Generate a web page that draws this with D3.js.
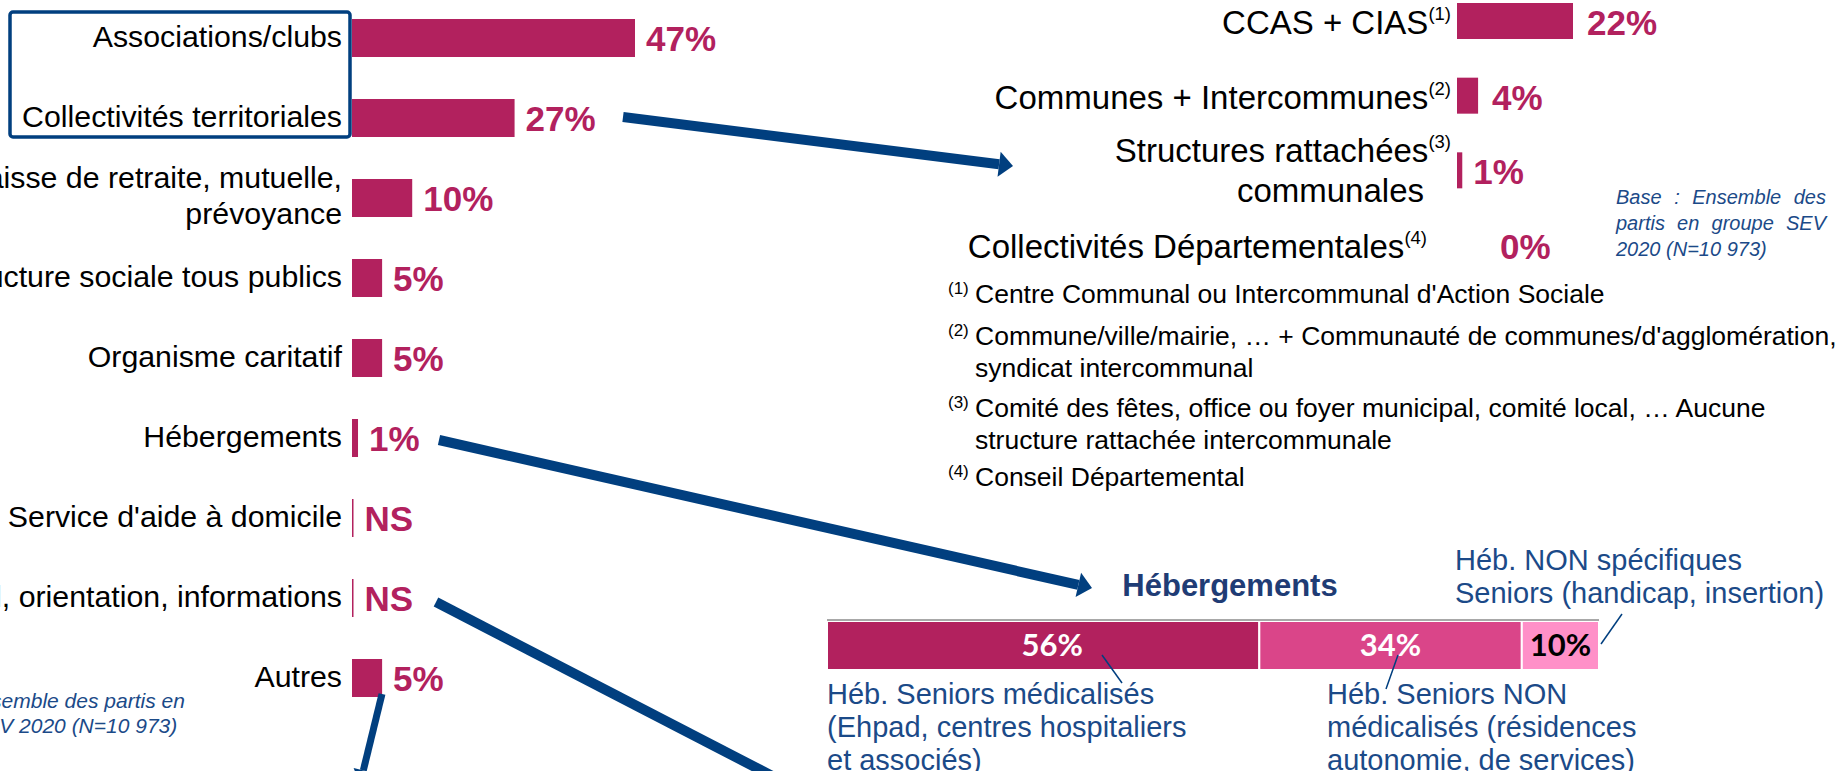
<!DOCTYPE html>
<html>
<head>
<meta charset="utf-8">
<script src="https://d3js.org/d3.v7.min.js"></script>
<style>
    body {
        margin: 0px;
        padding: 0px;
        background: #ffffff;
        overflow: hidden;
    }

    svg {
        display: block;
        font-family: "Liberation Sans", Arial, sans-serif;
    }
</style>
<title>Partis en groupe SEV 2020</title>
</head>

<body>
<div id="chart"></div>

<script>
    // left chart : type of structure (| = line break)
    var leftCats = ["Associations/clubs", "Collectivités territoriales",
        "Caisse de retraite, mutuelle,|prévoyance", "Structure sociale tous publics",
        "Organisme caritatif", "Hébergements", "Service d'aide à domicile",
        "Accueil, orientation, informations", "Autres"];
    var leftVals = [47, 27, 10, 5, 5, 1, 0.25, 0.25, 5];
    var leftLabels = ["47%", "27%", "10%", "5%", "5%", "1%", "NS", "NS", "5%"];

    // detail of "Collectivités territoriales"
    var colCats = ["CCAS + CIAS", "Communes + Intercommunes",
        "Structures rattachées|communales", "Collectivités Départementales"];
    var colSup = ["(1)", "(2)", "(3)", "(4)"];
    var colVals = [22, 4, 1, 0];
    var colLabels = ["22%", "4%", "1%", "0%"];

    // footnotes
    var noteNums = ["(1)", "(2)", "(3)", "(4)"];
    var noteLines = [
        ["Centre Communal ou Intercommunal d'Action Sociale"],
        ["Commune/ville/mairie, … + Communauté de communes/d'agglomération,", "syndicat intercommunal"],
        ["Comité des fêtes, office ou foyer municipal, comité local, … Aucune", "structure rattachée intercommunale"],
        ["Conseil Départemental"]
    ];

    // detail of "Hébergements"
    var hebCats = ["Seniors médicalisés", "Seniors NON médicalisés", "NON spécifiques Seniors"];
    var hebVals = [56, 34, 10];
    var hebLabels = ["56%", "34%", "10%"];
    var hebText = [
        ["Héb. Seniors médicalisés", "(Ehpad, centres hospitaliers", "et associés)"],
        ["Héb. Seniors NON", "médicalisés (résidences", "autonomie, de services)"],
        ["Héb. NON spécifiques", "Seniors (handicap, insertion)"]
    ];

    var baseText = ["Base : Ensemble des", "partis en groupe SEV", "2020 (N=10 973)"];
    var baseTextLeft = ["Base : Ensemble des partis en", "groupe SEV 2020 (N=10 973)"];

    var magenta = "#b2215e";
    var navy = "#013f7f";
    var blueText = "#1b4a88";

    var svg = d3.select("#chart").append("svg")
        .attr("width", 1835)
        .attr("height", 771);

    //justify a line of text to a given width by stretching the spaces
    function justify(sel, width) {
        sel.each(function () {
            var gaps = d3.select(this).text().split(" ").length - 1;
            var w0 = this.getComputedTextLength();
            if (gaps > 0) d3.select(this).style("word-spacing", ((width - w0) / gaps) + "px");
        });
    }

    //straight thick arrow, head drawn as a triangle
    function arrow(a) {
        var dx = a.to[0] - a.from[0], dy = a.to[1] - a.from[1];
        var len = Math.sqrt(dx * dx + dy * dy);
        var ux = dx / len, uy = dy / len;
        var bx = a.to[0] - ux * a.head, by = a.to[1] - uy * a.head;
        svg.append("line")
            .attr("x1", a.from[0]).attr("y1", a.from[1])
            .attr("x2", bx).attr("y2", by)
            .attr("stroke", navy)
            .attr("stroke-width", a.w);
        if (a.head > 0) {
            var hw = a.headW / 2;
            svg.append("polygon")
                .attr("points", [[a.to[0], a.to[1]],
                    [bx - uy * hw, by + ux * hw],
                    [bx + uy * hw, by - ux * hw]].join(" "))
                .attr("fill", navy);
        }
    }

    // ---------- left chart ----------
    var yLeft = d3.scalePoint().domain(leftCats).range([38, 678]);
    var xLeft = d3.scaleLinear().domain([0, 47]).range([352, 635]);
    var barH = 38;

    var gLeft = svg.append("g");

    gLeft.selectAll("rect")
        .data(leftCats)
        .join("rect")
        .attr("x", xLeft(0))
        .attr("y", function (d) { return yLeft(d) - barH / 2; })
        .attr("width", function (d, i) { return xLeft(leftVals[i]) - xLeft(0); })
        .attr("height", barH)
        .attr("fill", magenta);

    gLeft.selectAll("text.cat")
        .data(leftCats)
        .join("text")
        .attr("class", "cat")
        .attr("text-anchor", "end")
        .attr("font-size", 30.3)
        .attr("fill", "#000")
        .each(function (d) {
            var lines = d.split("|");
            var cy = yLeft(d);
            var t = d3.select(this);
            lines.forEach(function (l, k) {
                t.append("tspan")
                    .attr("x", 342)
                    .attr("y", lines.length == 1 ? cy + 9 : cy - 10 + k * 36)
                    .text(l);
            });
        });

    gLeft.selectAll("text.val")
        .data(leftCats)
        .join("text")
        .attr("class", "val")
        .attr("x", function (d, i) { return xLeft(leftVals[i]) + 11; })
        .attr("y", function (d) { return yLeft(d) + 13; })
        .attr("font-size", 35)
        .attr("font-weight", "bold")
        .attr("fill", magenta)
        .text(function (d, i) { return leftLabels[i]; });

    //box around associations + collectivités
    svg.append("rect")
        .attr("x", 10).attr("y", 12)
        .attr("width", 340).attr("height", 125)
        .attr("rx", 3)
        .attr("fill", "none")
        .attr("stroke", navy)
        .attr("stroke-width", 3.5);

    svg.append("g").selectAll("text")
        .data(baseTextLeft)
        .join("text")
        .attr("x", -100)
        .attr("y", function (d, i) { return 708 + i * 25; })
        .attr("font-size", 21)
        .attr("font-style", "italic")
        .attr("fill", blueText)
        .text(function (d) { return d; });

    // ---------- collectivités detail (top right) ----------
    var yCol = d3.scalePoint().domain(colCats).range([21, 245]);
    var xCol = d3.scaleLinear().domain([0, 22]).range([1457, 1573]);
    var colH = 36;
    var gCol = svg.append("g");

    gCol.selectAll("rect")
        .data(colCats)
        .join("rect")
        .attr("x", xCol(0))
        .attr("y", function (d) { return yCol(d) - colH / 2; })
        .attr("width", function (d, i) { return xCol(colVals[i]) - xCol(0); })
        .attr("height", colH)
        .attr("fill", magenta);

    //the empty row keeps its label further left, its value further right
    function rowShift(i) { return colVals[i] == 0 ? 24 : 0; }

    gCol.selectAll("g.lab")
        .data(colCats)
        .join("g")
        .attr("class", "lab")
        .each(function (d, i) {
            var lines = d.split("|");
            var cy = yCol(d);
            var g = d3.select(this);
            var t = g.append("text")
                .attr("x", 1451 - rowShift(i))
                .attr("y", lines.length == 1 ? cy + 13 : cy - 8)
                .attr("text-anchor", "end")
                .attr("font-size", 33);
            t.append("tspan").text(lines[0]);
            t.append("tspan")
                .attr("dy", -14)
                .attr("font-size", 18.5)
                .text(colSup[i]);
            if (lines.length > 1) {
                g.append("text")
                    .attr("x", 1424)
                    .attr("y", cy + 32)
                    .attr("text-anchor", "end")
                    .attr("font-size", 33)
                    .text(lines[1]);
            }
        });

    gCol.selectAll("text.val")
        .data(colCats)
        .join("text")
        .attr("class", "val")
        .attr("x", function (d, i) { return xCol(colVals[i]) + (colVals[i] > 1 ? 14 : 11) + (colVals[i] == 0 ? 32 : 0); })
        .attr("y", function (d) { return yCol(d) + 14; })
        .attr("font-size", 35)
        .attr("font-weight", "bold")
        .attr("fill", magenta)
        .text(function (d, i) { return colLabels[i]; });

    svg.append("g").selectAll("text")
        .data(baseText)
        .join("text")
        .attr("x", 1616)
        .attr("y", function (d, i) { return 204 + i * 26; })
        .attr("font-size", 20)
        .attr("font-style", "italic")
        .attr("fill", blueText)
        .text(function (d) { return d; })
        .filter(function (d, i) { return i < baseText.length - 1; })
        .call(justify, 210);

    //footnotes
    var gNotes = svg.append("g");
    var noteY = [303, 345, 417, 486];
    noteNums.forEach(function (n, i) {
        gNotes.append("text")
            .attr("x", 948)
            .attr("y", noteY[i] - 9)
            .attr("font-size", 17)
            .text(n);
        noteLines[i].forEach(function (l, k) {
            gNotes.append("text")
                .attr("x", 975)
                .attr("y", noteY[i] + k * 32)
                .attr("font-size", 26.5)
                .text(l);
        });
    });

    // ---------- hébergements detail (bottom right) ----------
    var xHeb = d3.scaleLinear().domain([0, 100]).range([827, 1599]);
    var hebColors = d3.scaleOrdinal().domain(hebCats).range([magenta, "#da4589", "#ff90c8"]);
    var starts = d3.cumsum([0].concat(hebVals));
    var gHeb = svg.append("g");

    gHeb.append("text")
        .attr("x", 1230)
        .attr("y", 596)
        .attr("text-anchor", "middle")
        .attr("font-size", 31)
        .attr("font-weight", "bold")
        .attr("fill", "#1f3c75")
        .text("Hébergements");

    gHeb.selectAll("rect")
        .data(hebCats)
        .join("rect")
        .attr("x", function (d, i) { return xHeb(starts[i]); })
        .attr("y", 621)
        .attr("width", function (d, i) { return xHeb(hebVals[i]) - xHeb(0); })
        .attr("height", 49)
        .attr("fill", function (d) { return hebColors(d); })
        .attr("stroke", "#fff")
        .attr("stroke-width", 2);

    gHeb.append("line")
        .attr("x1", xHeb(0)).attr("x2", xHeb(100))
        .attr("y1", 620).attr("y2", 620)
        .attr("stroke", "#a8a8a8")
        .attr("stroke-width", 2);

    gHeb.selectAll("text.val")
        .data(hebCats)
        .join("text")
        .attr("class", "val")
        .attr("x", function (d, i) { return xHeb(starts[i] + hebVals[i] / 2) + (i == 0 ? 9 : 0); })
        .attr("y", 656)
        .attr("text-anchor", "middle")
        .attr("font-family", "Lato, sans-serif")
        .attr("font-size", 31)
        .attr("font-weight", "bold")
        .attr("fill", function (d, i) { return i == 2 ? "#000" : "#fff"; })
        .text(function (d, i) { return hebLabels[i]; });

    //callout texts and their thin leader lines
    var hebTextPos = [[827, 704], [1327, 704], [1455, 570]];
    var leaders = [[1102, 655, 1122, 683], [1398, 655, 1386, 689], [1601, 644, 1622, 614]];

    hebText.forEach(function (lines, i) {
        lines.forEach(function (l, k) {
            gHeb.append("text")
                .attr("x", hebTextPos[i][0])
                .attr("y", hebTextPos[i][1] + k * 33)
                .attr("font-size", 29)
                .attr("fill", blueText)
                .text(l);
        });
        gHeb.append("line")
            .attr("x1", leaders[i][0]).attr("y1", leaders[i][1])
            .attr("x2", leaders[i][2]).attr("y2", leaders[i][3])
            .attr("stroke", navy)
            .attr("stroke-width", 1.5);
    });

    // ---------- arrows ----------
    var arrows = [
        { from: [623, 117], to: [1013, 166], w: 10, head: 14, headW: 25 },
        { from: [439, 440], to: [1092, 588], w: 10, head: 14, headW: 25 },
        { from: [436, 602], to: [950, 868], w: 10, head: 0 },
        { from: [382, 694], to: [360, 784], w: 7, head: 14, headW: 20 }
    ];
    arrows.forEach(arrow);
</script>
</body>
</html>
